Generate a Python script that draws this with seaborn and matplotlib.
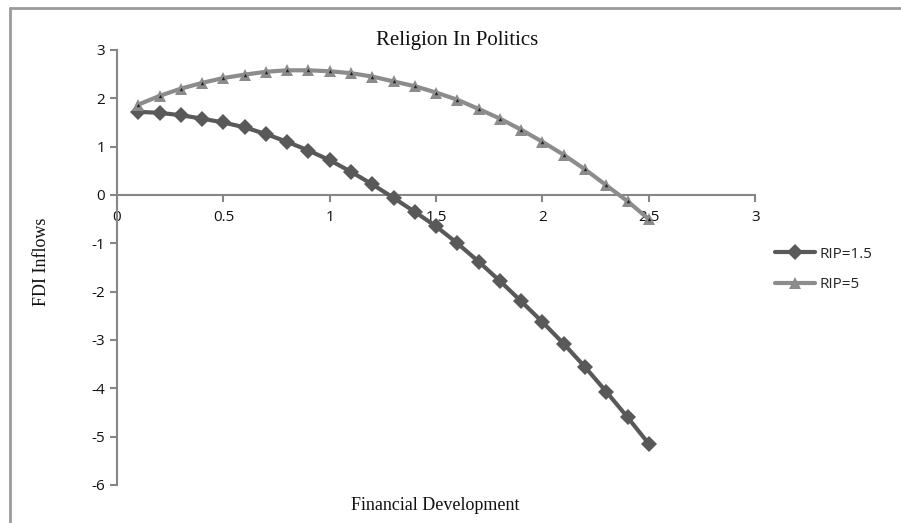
import numpy as np
import pandas as pd
import seaborn as sns
import matplotlib.pyplot as plt
from matplotlib.lines import Line2D

# Data
fin_dev = [0.1, 0.2, 0.3, 0.4, 0.5, 0.6, 0.7, 0.8, 0.9, 1.0, 1.1, 1.2, 1.3,
           1.4, 1.5, 1.6, 1.7, 1.8, 1.9, 2.0, 2.1, 2.2, 2.3, 2.4, 2.5]
rip_15 = [1.72, 1.70, 1.65, 1.58, 1.50, 1.40, 1.26, 1.10, 0.92, 0.72, 0.48, 0.22, -0.06,
          -0.35, -0.65, -1.00, -1.38, -1.78, -2.20, -2.63, -3.08, -3.56, -4.07, -4.60, -5.15]
rip_5 = [1.87, 2.05, 2.20, 2.32, 2.42, 2.49, 2.55, 2.58, 2.58, 2.56, 2.52, 2.45, 2.35,
         2.25, 2.12, 1.97, 1.78, 1.58, 1.35, 1.10, 0.83, 0.53, 0.20, -0.13, -0.50]
x_ticks = [0, 0.5, 1, 1.5, 2, 2.5, 3]
y_ticks = [-6, -5, -4, -3, -2, -1, 0, 1, 2, 3]

df = pd.DataFrame({"x": fin_dev, "RIP=1.5": rip_15, "RIP=5": rip_5})

sns.set_style("white")
plt.rcParams["font.family"] = ["Open Sans", "DejaVu Sans"]
plt.rcParams["axes.unicode_minus"] = False

fig = plt.figure(figsize=(9.01, 5.23), dpi=100)
ax = fig.add_axes([0.1299, 0.0727, 0.7083, 0.8317])

dark = "#595959"
light = "#8c8c8c"

sns.lineplot(data=df, x="x", y="RIP=1.5", ax=ax, color=dark, linewidth=3,
             marker="D", markersize=8, markeredgewidth=0, zorder=3)
sns.lineplot(data=df, x="x", y="RIP=5", ax=ax, color=light, linewidth=3,
             marker="^", markersize=8, markeredgewidth=0, zorder=4)
# small dark centre inside the triangles
sns.scatterplot(data=df, x="x", y="RIP=5", ax=ax, color="#222222", marker="^",
                s=6, linewidth=0, zorder=5)

ax.set_xlim(0, 3)
ax.set_ylim(-6, 3)
ax.set_xticks(x_ticks)
ax.set_xticklabels(["0", "0.5", "1", "1.5", "2", "2.5", "3"])
ax.set_yticks(y_ticks)

spine_c = "#868686"
ax.spines["left"].set_position(("data", 0))
ax.spines["bottom"].set_position(("data", 0))
ax.spines["right"].set_visible(False)
ax.spines["top"].set_visible(False)
for s in ["left", "bottom"]:
    ax.spines[s].set_color(spine_c)
    ax.spines[s].set_linewidth(1.5)
ax.tick_params(axis="both", direction="out", length=5, width=1.5, color=spine_c,
               labelsize=11, labelcolor="#111111", bottom=True, left=True)
ax.tick_params(axis="x", pad=6)

ax.set_xlabel("")
ax.set_ylabel("")
ax.set_title("")

serif = ["Liberation Serif", "DejaVu Serif"]
fig.text(0.507, 0.922, "Religion In Politics", ha="center", va="center",
         fontsize=15, family=serif, color="#111111")
fig.text(0.483, 0.034, "Financial Development", ha="center", va="center",
         fontsize=13, family=serif, color="#111111")
fig.text(0.046, 0.50, "FDI Inflows", ha="center", va="center", rotation=90,
         fontsize=13, family=serif, color="#111111")

handles = [
    Line2D([], [], color=dark, linewidth=3, marker="D", markersize=8, markeredgewidth=0),
    Line2D([], [], color=light, linewidth=3, marker="^", markersize=8, markeredgewidth=0),
]
fig.legend(handles, ["RIP=1.5", "RIP=5"], loc="center left",
           bbox_to_anchor=(0.845, 0.485), frameon=False, fontsize=11,
           handlelength=2.6, handletextpad=0.3, labelspacing=1.0)

# outer chart frame
fig.add_artist(Line2D([10 / 901, 10 / 901], [0, 1 - 8 / 523], transform=fig.transFigure,
                      color="#9a9a9a", linewidth=2))
fig.add_artist(Line2D([10 / 901, 1], [1 - 8 / 523, 1 - 8 / 523], transform=fig.transFigure,
                      color="#9a9a9a", linewidth=2))

fig.savefig("out.png", dpi=100)
